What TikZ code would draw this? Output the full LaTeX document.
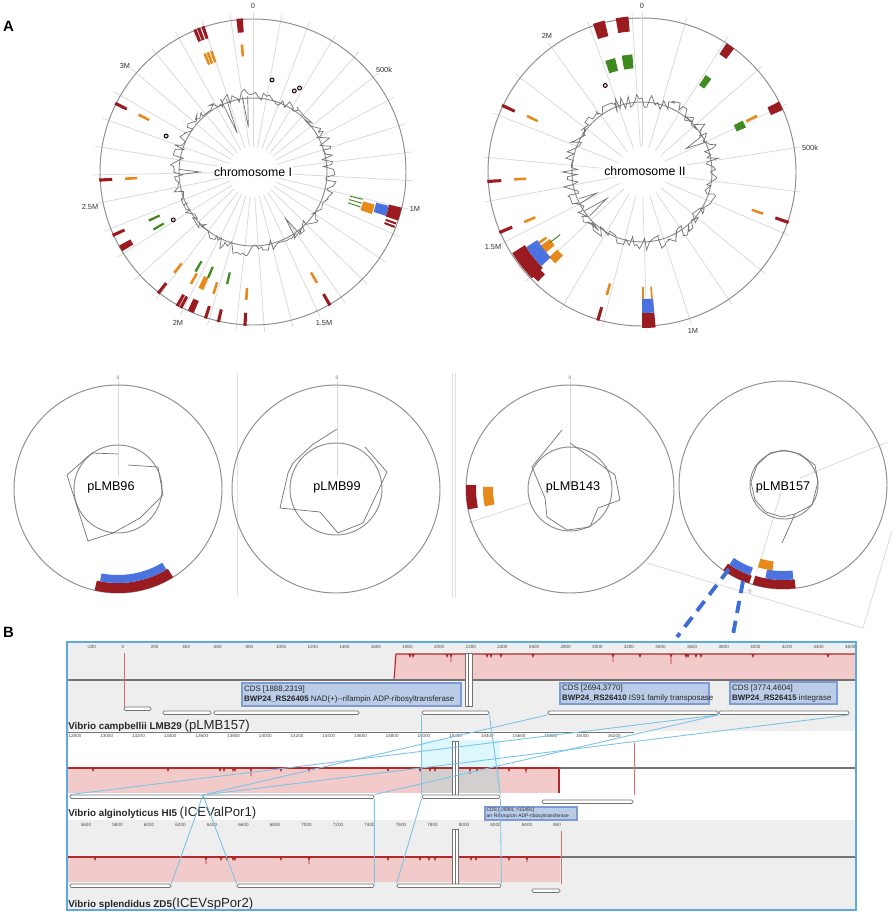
\documentclass[tikz,border=0pt]{standalone}
\usepackage{fontspec}
\setmainfont{Liberation Sans}
\usetikzlibrary{fit}

\definecolor{featred}{HTML}{9A1C20}
\definecolor{featorange}{HTML}{E8891C}
\definecolor{featgreen}{HTML}{3F8A1F}
\definecolor{featblue}{HTML}{4B73DF}
\definecolor{spokegray}{HTML}{DADADA}
\definecolor{ringgray}{HTML}{8E8E8E}
\definecolor{bandgray}{HTML}{EEEEEE}
\definecolor{pinkfill}{HTML}{F3CACA}
\definecolor{overlapgray}{HTML}{D3CFCF}
\definecolor{selcyan}{HTML}{DDF8FC}
\definecolor{dipred}{HTML}{B02A2A}
\definecolor{lightred}{HTML}{E06A6A}
\definecolor{linkcyan}{HTML}{7CC3E8}
\definecolor{frameblue}{HTML}{5DA9E2}
\definecolor{tipfill}{HTML}{BACCE7}
\definecolor{tipdraw}{HTML}{7D9CD2}
\definecolor{dashblue}{HTML}{3D6ED6}

% annular piece: start angle, end angle, inner r, outer r, colour (angles clockwise from top)
\newcommand{\ringpart}[5]{%
  \fill[#5] ({#1-90}:#3) arc[start angle={#1-90}, end angle={#2-90}, radius=#3]
    -- ({#2-90}:#4) arc[start angle={#2-90}, end angle={#1-90}, radius=#4] -- cycle;}
\newcommand{\featbar}[4]{\ringpart{#1-0.6}{#1+0.6}{#2}{#3}{#4}}
\newcommand{\hitdip}[3]{\draw[dipline] ({#1-1.2},#2) -- (#1,{#2+3}) -- ({#1+1.2},#2) (#1,#2) -- (#1,{#2+#3});}

\tikzset{
  spoke/.style={draw=spokegray, line width=0.45pt},
  ring/.style={draw=ringgray, line width=0.55pt},
  skew/.style={draw=black!55, line width=0.4pt},
  marker/.style={draw=black, fill=pink, line width=0.5pt},
  chrlabel/.style={fill=white, inner sep=0.6pt, font=\fontsize{7}{8}\selectfont},
  plaslabel/.style={inner sep=0pt, font=\fontsize{7.2}{8}\selectfont},
  ticklab/.style={inner sep=0pt, font=\fontsize{4.2}{5}\selectfont, text=black!80},
  zerolab/.style={inner sep=0pt, font=\fontsize{2.8}{3}\selectfont, text=black!60},
  panellab/.style={inner sep=0pt, font=\fontsize{8.5}{10}\selectfont\bfseries},
  divider/.style={draw=black!12, line width=0.5pt},
  axisline/.style={draw=black!55, line width=0.6pt},
  genebox/.style={draw=black!55, fill=white, rounded corners=0.8pt, inner sep=0pt, line width=0.45pt},
  gapmark/.style={draw=black!55, fill=white, line width=0.35pt},
  dipline/.style={draw=dipred, line width=0.45pt},
  link/.style={draw=linkcyan, line width=0.5pt},
  rulerlab/.style={inner sep=0pt, font=\fontsize{2.6}{3}\selectfont, text=black!70},
  tipbox/.style={fill=tipfill, draw=tipdraw, line width=0.6pt, inner sep=0pt},
  tiptext/.style={inner sep=1.3pt, align=left, font=\fontsize{4.5}{5.7}\selectfont, text=black!85},
  trklab/.style={inner sep=0pt, text=black!85, font=\fontsize{5.6}{6.5}\selectfont},
  iceline/.style={draw=dashblue, line width=2.2pt, dash pattern=on 7pt off 4.5pt}
}

\begin{document}
\begin{tikzpicture}[x=0.02cm, y=-0.02cm]
\useasboundingbox (0,0) rectangle (893,916);

\node[panellab] (pA) at (8.5,26.5) {A};
\node[panellab] (pB) at (8.5,632) {B};

% chromosome I
\begin{scope}[shift={(253,172)}]
\foreach \k in {0,...,34} \draw[spoke] ({\k*10.345-90}:25) -- ({\k*10.345-90}:160);
\draw[ring] (0,0) circle[radius=153];
\draw[ring] (0,0) circle[radius=74];
\pgfmathsetseed{11}
\draw[skew] (-90:78) \foreach \a in {2,4,...,358} { -- ({\a-90}:{74+14*rnd-4}) } -- cycle;
\draw[skew] ({352-90}:76) -- ({354-90}:45) -- ({356-90}:76);
\draw[skew] ({336-90}:80) -- ({338-90}:42) -- ({340-90}:78);
\draw[skew] ({268-90}:72) -- ({270-90}:53) -- ({272-90}:74);
\draw[skew] ({143-90}:76) -- ({145-90}:57) -- ({147-90}:75);
% red track
\foreach \a in {337.8,339.3,341,296.5,267,245.7,218,209.5,208,198,193,183,150}
  \featbar{\a}{141}{154}{featred};
\ringpart{353.8}{356.2}{140}{154}{featred}
\ringpart{238.8}{241.2}{140}{153}{featred}
\ringpart{202.8}{205.2}{140}{153}{featred}
\ringpart{103.5}{108.5}{140}{153}{featred}
\ringpart{109.4}{110.2}{141}{152}{featred}
\ringpart{110.8}{111.6}{141}{152}{featred}
% orange track
\foreach \a in {355,337.8,339.3,341,296.6,267,218,209,198,183,150}
  \featbar{\a}{116}{128}{featorange};
\ringpart{202.8}{205.2}{115}{128}{featorange}
\ringpart{105}{109.5}{114}{126}{featorange}
% green track
\foreach \a in {245,240,210,203,193} \featbar{\a}{103}{115}{featgreen};
\foreach \a in {104,106,108} \ringpart{\a-0.25}{\a+0.25}{100}{113}{featgreen};
% blue track
\ringpart{104}{108.3}{127}{140}{featblue}
\foreach \a/\r in {11.7/94,27/91,29/96,292.5/94,239/93} \draw[marker] ({\a-90}:\r) circle[radius=2];
\end{scope}
\node[chrlabel] (chrI) at (253,172) {chromosome I};
\node[ticklab] (chrIa) at (253,6) {0};
\node[ticklab] (chrIb) at (384,70) {500k};
\node[ticklab] (chrIc) at (415,209) {1M};
\node[ticklab] (chrId) at (324,323) {1.5M};
\node[ticklab] (chrIe) at (178,323) {2M};
\node[ticklab] (chrIf) at (90,207) {2.5M};
\node[ticklab] (chrIg) at (125,66) {3M};

% chromosome II
\begin{scope}[shift={(642,172)}]
\foreach \k in {0,...,22} \draw[spoke] ({\k*16.2-90}:25) -- ({\k*16.2-90}:160);
\draw[ring] (0,0) circle[radius=154];
\draw[ring] (0,0) circle[radius=70];
\pgfmathsetseed{5}
\draw[skew] (-90:74) \foreach \a in {2,4,...,358} { -- ({\a-90}:{70+16*rnd-6}) } -- cycle;
\draw[skew] ({59-90}:70) -- ({62-90}:50) -- ({65-90}:72);
\draw[skew] ({230-90}:68) -- ({233-90}:44) -- ({236-90}:70);
\draw[skew] ({243-90}:70) -- ({245-90}:50) -- ({247-90}:68);
% red track
\ringpart{341.7}{346.1}{140}{156}{featred}
\ringpart{350.3}{355}{141}{156}{featred}
\ringpart{33.3}{36.7}{141}{154}{featred}
\ringpart{62.8}{66.2}{141}{154}{featred}
\foreach \a in {109,196.6,247,266.5,295.5} \featbar{\a}{141}{155}{featred};
\ringpart{175}{180}{141}{156}{featred}
\ringpart{226}{238}{138}{153}{featred}
\ringpart{223.5}{227.5}{141}{151}{featred}
% orange track
\foreach \a in {64,109,196,235.5,247,266.7,296} \featbar{\a}{116}{128}{featorange};
\foreach \a in {175.5,179.5} \ringpart{\a-0.4}{\a+0.4}{115}{127}{featorange};
\ringpart{230}{234}{114}{126}{featorange}
\ringpart{223.5}{227.5}{115}{126}{featorange}
% green track
\ringpart{341.7}{346.7}{104}{117}{featgreen}
\ringpart{350.1}{355.3}{104}{118}{featgreen}
\ringpart{33.3}{36.7}{104}{116}{featgreen}
\ringpart{63}{66.8}{103}{113}{featgreen}
\ringpart{232.3}{232.8}{103}{116}{featgreen}
% blue track
\ringpart{227}{237}{125}{138}{featblue}
\ringpart{175}{180}{127}{141}{featblue}
\draw[marker] ({337-90}:94) circle[radius=2];
\end{scope}
\node[chrlabel] (chrII) at (645,171) {chromosome II};
\node[ticklab] (chrIIa) at (642,6) {0};
\node[ticklab] (chrIIb) at (810,148) {500k};
\node[ticklab] (chrIIc) at (693,331) {1M};
\node[ticklab] (chrIId) at (493,247) {1.5M};
\node[ticklab] (chrIIe) at (547,36) {2M};

% plasmid row
\draw[divider] (237,373) -- (237,597);
\draw[divider] (452,373) -- (452,597);
\draw[divider] (455,373) -- (455,597);

% pLMB96
\draw[spoke] (118,381) -- (118,477);
\draw[ring] (118,489) circle[radius=104];
\draw[ring] (118,489) circle[radius=44];
\draw[skew] (118,454) -- (92,453) -- (67,475) -- (88,541) -- (113,533) -- (140,518) -- (163,495) -- (158,467) -- (128,465);
\begin{scope}[shift={(118,489)}]
\ringpart{148}{193}{94}{104}{featred}
\ringpart{149}{191}{86}{94}{featblue}
\end{scope}
\node[zerolab] (z96) at (118,378) {0};
\node[plaslabel] (p96) at (111,487) {pLMB96};

% pLMB99
\draw[spoke] (337,381) -- (337,477);
\draw[ring] (336,489) circle[radius=104];
\draw[ring] (336,489) circle[radius=46];
\draw[skew] (337,429) -- (312,445) -- (293,463) -- (288,473) -- (280,508) -- (320,512) -- (338,533) -- (363,523) -- (387,472) -- (365,447);
\node[zerolab] (z99) at (337,378) {0};
\node[plaslabel] (p99) at (337,487) {pLMB99};

% pLMB143
\draw[spoke] (570,381) -- (570,487);
\draw[spoke] (468,523) -- (531,502);
\draw[ring] (570,489) circle[radius=104];
\draw[ring] (570,489) circle[radius=42];
\draw[skew] (562,430) -- (532,467) -- (545,498) -- (547,517) -- (567,530) -- (590,527) -- (598,508) -- (620,500) -- (615,475) -- (570,443);
\begin{scope}[shift={(570,489)}]
\ringpart{258.6}{272.3}{94}{104}{featred}
\ringpart{258.5}{271.5}{77}{87}{featorange}
\end{scope}
\node[zerolab] (z143) at (570,378) {0};
\node[plaslabel] (p143) at (573,487) {pLMB143};

% pLMB157
\draw[spoke] (647,563) -- (863,628) -- (892,531);
\draw[spoke] (800,478) -- (888,442);
\draw[spoke] (781,492) -- (757,572);
\draw[ring] (783,485) circle[radius=104];
\draw[ring] (784,485) circle[radius=34];
\draw[skew] (782,543) -- (795,514) -- (812,505) -- (818,482) -- (815,465) -- (800,454) -- (784,450) -- (770,453) -- (757,465) -- (751,482) -- (755,500) -- (766,512) -- (782,517) -- (795,514);
\begin{scope}[shift={(783,485)}]
\ringpart{199}{215}{96}{104}{featred}
\ringpart{200}{214}{88}{96}{featblue}
\ringpart{173}{197}{95}{104}{featred}
\ringpart{173.7}{190.7}{86}{95}{featblue}
\ringpart{187}{197}{77}{86}{featorange}
\end{scope}
\node[zerolab, rotate=20] (z157) at (750,591) {0};
\node[plaslabel] (p157) at (783,487) {pLMB157};

% panel B: track backgrounds
\fill[bandgray] (67,642) rectangle (856,731);
\fill[white] (67,731) rectangle (856,820);
\fill[bandgray] (67,820) rectangle (856,910);

% track 1 (pLMB157)
\foreach \v [count=\i] in {-200,0,...,4600} \node[rulerlab] (ra\i) at ({123+0.1581*\v},647) {\v};
\fill[pinkfill] (394,654) rectangle (856,680);
\draw[dipred, line width=0.6pt] (394,680) -- (396,654) -- (856,654);
\foreach \x/\l in {410/3,413/3,447/3,451/8,487/3,491/3,501/3,533/3,613/8,640/3,671/10,686/3,688/3,696/3,701/3,753/3,828/3}
  \hitdip{\x}{654}{\l}
\draw[axisline] (67,680) -- (856,680);
\draw[lightred, line width=0.5pt] (124,653) -- (124,708);
\draw[gapmark] (465,653) rectangle (468.5,706);
\draw[gapmark] (468.5,653) rectangle (472,706);
\node[genebox, fit={(124,707) (151,710.5)}] (cb1) {};
\node[genebox, fit={(163,711) (211,714.5)}] (cb2) {};
\node[genebox, fit={(214,711) (359,714.5)}] (cb3) {};
\node[genebox, fit={(422,711) (489,714.5)}] (cb4) {};
\node[genebox, fit={(548,711) (718,714.5)}] (cb5) {};
\node[genebox, fit={(719,711) (849,714.5)}] (cb6) {};
\node[tipbox, fit={(242,683) (461,706)}] (tip1) {};
\node[tiptext, anchor=west] (tip1t) at (tip1.west) {CDS [1888,2319]\\\textbf{BWP24\_RS26405} NAD(+){-}{-}rifampin ADP-ribosyltransferase};
\node[tipbox, fit={(560,683) (709,704)}] (tip2) {};
\node[tiptext, anchor=west] (tip2t) at (tip2.west) {CDS [2694,3770]\\\textbf{BWP24\_RS26410} IS91 family transposase};
\node[tipbox, fit={(730,682) (837,704)}] (tip3) {};
\node[tiptext, anchor=west] (tip3t) at (tip3.west) {CDS [3774,4604]\\\textbf{BWP24\_RS26415} integrase};
\node[trklab, anchor=base west] (trk1) at (68,729) {\textbf{Vibrio campbellii LMB29} {\fontsize{7.5}{9}\selectfont(pLMB157)}};

% track 2 (ICEValPor1)
\draw[black!55, line width=0.4pt] (67,732) -- (634,732);
\foreach \v [count=\i] in {128,130,...,162} \node[rulerlab] (rb\i) at ({75+15.86*(\v-128)},736) {\v00};
\fill[selcyan] (422,740) rectangle (500,768);
\fill[pinkfill] (67,768) rectangle (559,793);
\fill[overlapgray] (422,768) rectangle (500,793);
\draw[dipred, line width=0.6pt] (67,768) -- (559,768) -- (559,793);
\foreach \x/\l in {93/3,168/3,220/3,224/3,233/3,235/3,251/8,281/3,309/3,388/3,420/3,430/3,435/3,470/6,477/3,509/3,526/5}
  \hitdip{\x}{768}{\l}
\draw[axisline] (559,768) -- (856,768);
\draw[lightred, line width=0.5pt] (634,743) -- (634,795);
\draw[gapmark] (452,741) rectangle (455,795);
\draw[gapmark] (455,741) rectangle (458,795);
\node[genebox, fit={(70,795) (374,798.5)}] (al1) {};
\node[genebox, fit={(422,795) (500,798.5)}] (al2) {};
\node[genebox, fit={(542,800) (633,803.5)}] (al3) {};
\coordinate (almid) at (203,795);
\draw[black!70, line width=0.5pt] (almid) -- ++(0,3);
\node[trklab, anchor=base west] (trk2) at (68,816) {\textbf{Vibrio alginolyticus HI5} {\fontsize{7.5}{9}\selectfont(ICEValPor1)}};
\node[tipbox, fit={(485,807) (577,820)}] (tip4) {};
\node[tiptext, anchor=west, inner sep=1pt, font=\fontsize{2.8}{3.6}\selectfont] (tip4t) at (tip4.west) {CDS [14994, >15491]\\arr Rifampicin ADP-ribosyltransferase};

% track 3 (ICEVspPor2)
\foreach \v [count=\i] in {5600,5800,...,8400} \node[rulerlab] (rc\i) at ({86+0.1575*(\v-5600)},825) {\v};
\node[rulerlab] (rc16) at (557,825) {860};
\fill[pinkfill] (67,857) rectangle (560,882);
\draw[dipred, line width=0.6pt] (67,857) -- (560,857);
\foreach \x/\l in {95/3,206/7,221/3,227/3,233/3,235/3,281/3,309/7,388/3,420/3,429/3,435/3,471/3,476/3,509/3,527/5}
  \hitdip{\x}{857}{\l}
\draw[axisline] (560,857) -- (856,857);
\draw[lightred, line width=0.5pt] (561,831) -- (561,884);
\draw[gapmark] (452,829) rectangle (455,884);
\draw[gapmark] (455,829) rectangle (458,884);
\node[genebox, fit={(70,884) (171,887.5)}] (sp1) {};
\node[genebox, fit={(237,884) (374,887.5)}] (sp2) {};
\node[genebox, fit={(397,884) (501,887.5)}] (sp3) {};
\node[genebox, fit={(532,889) (560,892.5)}] (sp4) {};
\node[trklab, anchor=base west] (trk3) at (68,907) {\textbf{Vibrio splendidus ZD5}{\fontsize{7.5}{9}\selectfont(ICEVspPor2)}};

% alignment links
\draw[link] (cb4.south west) -- (al2.north west);
\draw[link] (cb4.south east) -- (al2.north east);
\draw[link] (cb5.south west) -- (almid);
\draw[link] (cb5.south east) -- (al1.north east);
\draw[link] (cb5.south east) -- (al1.north west);
\draw[link] (cb6.south east) -- (almid);
\draw[link] (almid) -- (sp1.north east);
\draw[link] (almid) -- (sp2.north west);
\draw[link] (al1.south east) -- (sp2.north east);
\draw[link] (al2.south west) -- (sp3.north west);
\draw[link] (al2.south east) -- (sp3.north east);

% frame
\draw[frameblue, line width=1pt] (67,642) rectangle (856,910);

% pLMB157 region to panel B
\coordinate (arcA) at (729,569);
\coordinate (arcB) at (743,581);
\coordinate (boxA) at (677,637);
\coordinate (boxB) at (732,640);
\draw[iceline] (arcA) -- (boxA);
\draw[iceline] (arcB) -- (boxB);
\end{tikzpicture}
\end{document}
